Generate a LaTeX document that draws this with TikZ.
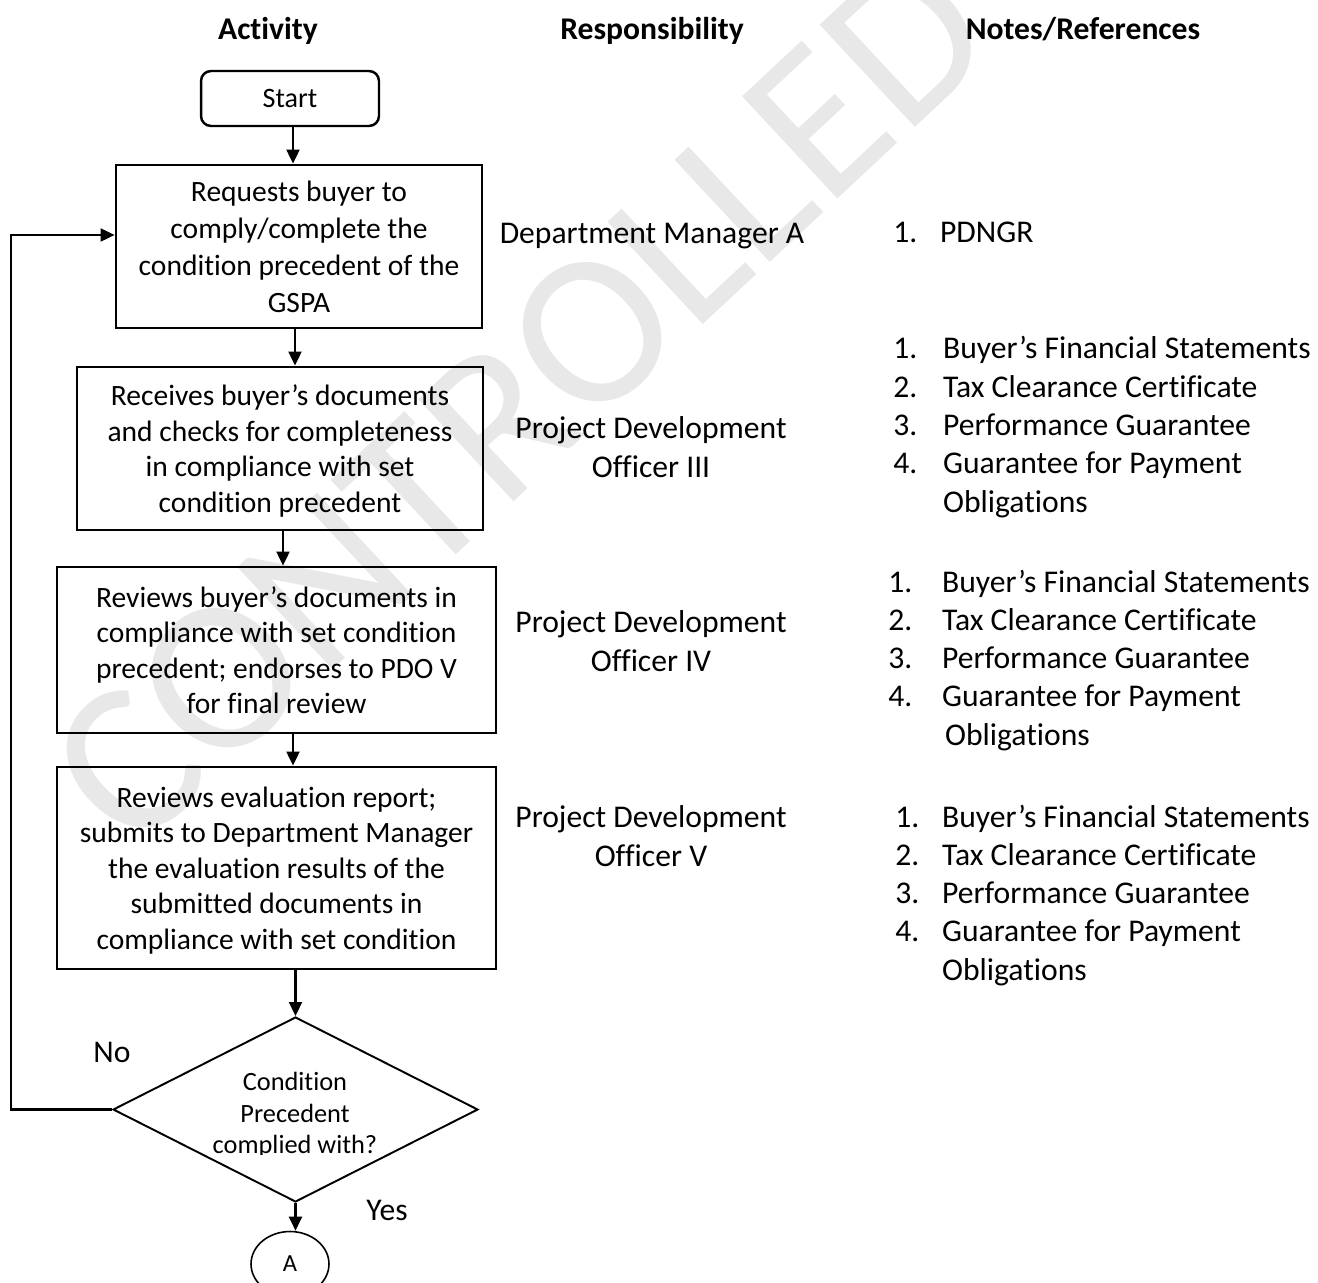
\documentclass[tikz,border=0pt]{standalone}
\usepackage{fontspec}
\setmainfont{Carlito}[Ligatures=CommonOff]
\usetikzlibrary{shapes.geometric,arrows.meta,positioning}

\tikzset{
    arr/.style={line width=1.2pt, -{Triangle[length=8pt,width=7.4pt]}},
    stepbox/.style={draw, line width=1.6pt, align=center, inner sep=0pt, text depth=0pt,
        execute at begin node={\rule{0pt}{16.5pt}},
        font=\fontsize{16.8}{20.2}\selectfont},
    resp/.style={align=center, inner sep=0pt, font=\fontsize{18}{22.1}\selectfont},
    notes/.style={anchor=base west, inner sep=0pt, font=\fontsize{18}{21.8}\selectfont},
    head/.style={anchor=base, inner sep=0pt, font=\fontsize{18}{20}\selectfont\bfseries},
}

\begin{document}
\begin{tikzpicture}[x=0.02cm, y=-0.02cm]
\useasboundingbox (0,0) rectangle (1318,1283);
%watermark
\node[text=black!9, rotate=43, inner sep=0pt, font=\fontsize{124}{124}\selectfont] (wm) at (520,400) {CONTROLLED};
%---------------------------------------------------------
%column heads
\node[head] (hact) at (268,40) {Activity};
\node[head] (hresp) at (652,40) {Responsibility};
\node[head] (hnotes) at (1083,40) {Notes/References};
%---------------------------------------------------------
%activity column
\node[draw, line width=1.4pt, rounded corners=0.2cm, minimum width=3.56cm, minimum height=1.1cm,
    inner sep=0pt, font=\fontsize{16}{18}\selectfont] (start) at (290,98.5) {Start};
\node[stepbox, minimum width=7.32cm, minimum height=3.26cm, execute at begin node={\rule{0pt}{19pt}},
    font=\fontsize{16.8}{21}\selectfont] (req) at (299,246.5)
    {Requests buyer to\\comply/complete the\\condition precedent of the\\GSPA};
\node[stepbox, minimum width=8.12cm, minimum height=3.26cm] (rec) at (280,448.5)
    {Receives buyer’s documents\\and checks for completeness\\in compliance with set\\condition precedent};
\node[stepbox, minimum width=8.78cm, minimum height=3.32cm] (rev) at (276.5,650)
    {Reviews buyer’s documents in\\compliance with set condition\\precedent; endorses to PDO V\\for final review};
\node[stepbox, minimum width=8.78cm, minimum height=4.04cm] (eval) at (276.5,868)
    {Reviews evaluation report;\\submits to Department Manager\\the evaluation results of the\\submitted documents in\\compliance with set condition};
\node[draw, diamond, line width=1.1pt, minimum width=7.3cm, minimum height=3.7cm, inner sep=0pt] (dec) at (295.5,1109.5) {};
\begin{scope}
    \clip (120,1050) rectangle (470,1154); %text cut off at the bottom
    \node[align=center, inner sep=0pt, font=\fontsize{15}{17.9}\selectfont] (dectxt) at (295,1115)
        {Condition\\Precedent\\complied with?};
\end{scope}
\node[draw, ellipse, line width=0.9pt, minimum width=1.56cm, minimum height=1.3cm, inner sep=0pt,
    font=\fontsize{14}{16}\selectfont] (conA) at (290,1264) {A};
\node[inner sep=0pt, font=\fontsize{18}{20}\selectfont] (no) at (112,1052) {No};
\node[inner sep=0pt, font=\fontsize{18}{20}\selectfont] (yes) at (387,1210) {Yes};
%arrows
\draw[arr] (start.south -| 293,0) -- (req.north -| 293,0);
\draw[arr] (req.south -| 295,0) -- (rec.north -| 295,0);
\draw[arr] (rec.south -| 283,0) -- (rev.north -| 283,0);
\draw[arr] (rev.south -| 293,0) -- (eval.north -| 293,0);
\draw[arr] (eval.south -| dec.north) -- (dec.north);
\draw[arr] (dec.south) -- (dec.south |- conA.north);
%No loop back to the first step
\coordinate (loop) at (11,235);
\draw[arr] (dec.west) -| (loop) -- (loop -| req.west);
%---------------------------------------------------------
%responsibility column
\node[resp] (r1) at (652,236) {Department Manager A};
\node[resp] (r2) at (651,447.5) {Project Development\\Officer III};
\node[resp] (r3) at (651,641.5) {Project Development\\Officer IV};
\node[resp] (r4) at (651,836.5) {Project Development\\Officer V};
%---------------------------------------------------------
%notes column
\node[notes] (n1) at (893,243) {\begin{tabular}[t]{@{}p{26.6pt}@{}l@{}}1. & PDNGR\end{tabular}};
\node[notes] (n2) at (893,359) {\begin{tabular}[t]{@{}p{28.3pt}@{}l@{}}
    1. & Buyer’s Financial Statements\\
    2. & Tax Clearance Certificate\\
    3. & Performance Guarantee\\
    4. & Guarantee for Payment\\
       & Obligations
    \end{tabular}};
\node[notes] (n3) at (888,592) {\begin{tabular}[t]{@{}p{30.6pt}@{}l@{}}
    1. & Buyer’s Financial Statements\\
    2. & Tax Clearance Certificate\\
    3. & Performance Guarantee\\
    4. & Guarantee for Payment\\
       & \kern1.7pt Obligations
    \end{tabular}};
\node[notes] (n4) at (895,827) {\begin{tabular}[t]{@{}p{26.6pt}@{}l@{}}
    1. & Buyer’s Financial Statements\\
    2. & Tax Clearance Certificate\\
    3. & Performance Guarantee\\
    4. & Guarantee for Payment\\
       & Obligations
    \end{tabular}};
\end{tikzpicture}
\end{document}
